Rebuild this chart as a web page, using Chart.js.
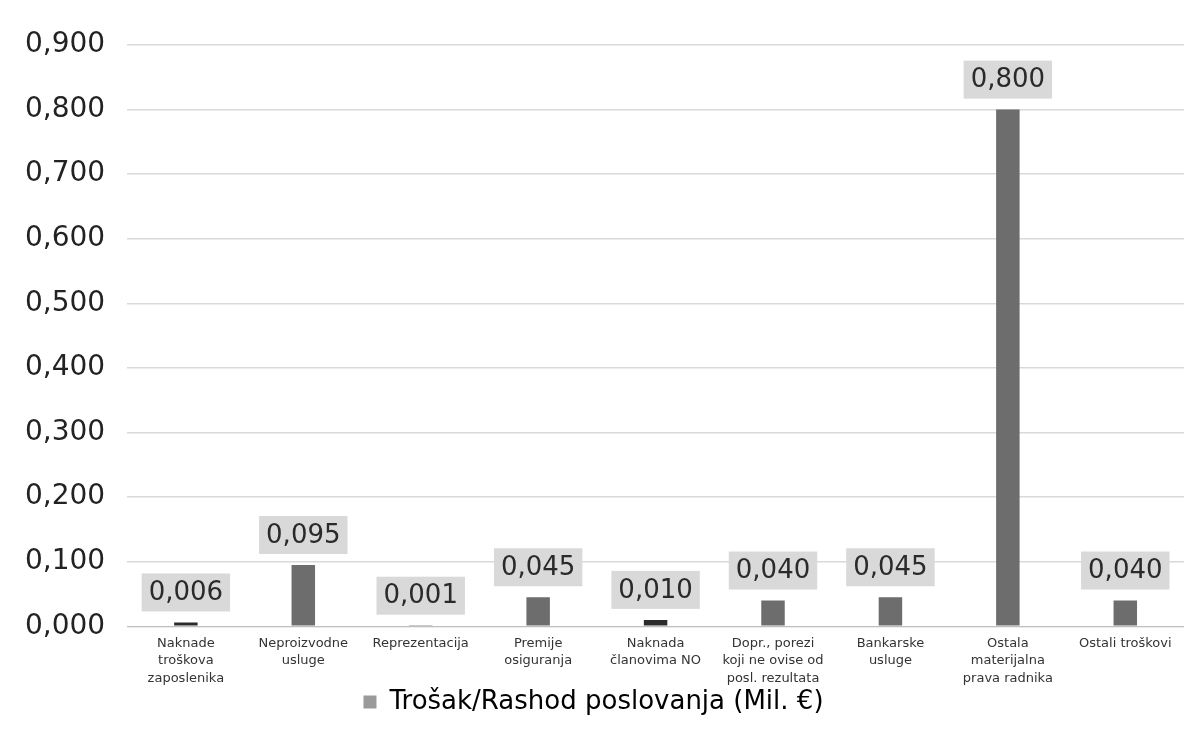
<!DOCTYPE html>
<html>
<head>
<meta charset="utf-8">
<script src="https://cdn.jsdelivr.net/npm/chart.js@4"></script>
<style>
  html, body { margin: 0; padding: 0; background: #fff; }
  #wrap { width: 1184px; height: 743px; }
</style>
</head>
<body>
<div id="wrap"><canvas id="myChart" width="1184" height="743"></canvas></div>
<script>
// Categories (multi-line labels as shown under the bars)
const categories = [
    ['Naknade', 'troškova', 'zaposlenika'],
    ['Neproizvodne', 'usluge'],
    ['Reprezentacija'],
    ['Premije', 'osiguranja'],
    ['Naknada', 'članovima NO'],
    ['Dopr., porezi', 'koji ne ovise od', 'posl. rezultata'],
    ['Bankarske', 'usluge'],
    ['Ostala', 'materijalna', 'prava radnika'],
    ['Ostali troškovi']
];
const values = [0.006, 0.095, 0.001, 0.045, 0.010, 0.040, 0.045, 0.800, 0.040]; // Mil. €
const seriesName = 'Trošak/Rashod poslovanja (Mil. €)';

const fmt = v => v.toFixed(3).replace('.', ',');

// Grey boxes with the value above each bar
const valueBoxes = {
    id: 'valueBoxes',
    afterDatasetsDraw(chart) {
        const c = chart.ctx;
        const meta = chart.getDatasetMeta(0);
        c.save();
        c.font = '26px "DejaVu Sans"';
        c.textAlign = 'center';
        c.textBaseline = 'middle';
        meta.data.forEach((bar, i) => {
            const txt = fmt(values[i]);
            const w = c.measureText(txt).width + 14;
            const h = 38;
            const cy = bar.y - 30;
            c.fillStyle = '#d9d9d9';
            c.fillRect(bar.x - w / 2, cy - h / 2, w, h);
            c.fillStyle = '#2a2a2a';
            c.fillText(txt, bar.x, cy + 1);
        });
        c.restore();
    }
};

const ctx = document.getElementById('myChart').getContext('2d');
const myChart = new Chart(ctx, {
    type: 'bar',
    data: {
        labels: categories,
        datasets: [{
            label: seriesName,
            data: values,
            backgroundColor: ['#2b2b2b', '#6d6d6d', '#2b2b2b', '#6d6d6d', '#2b2b2b', '#6d6d6d', '#6d6d6d', '#6d6d6d', '#6d6d6d'],
            barPercentage: 0.2,
            categoryPercentage: 1.0
        }]
    },
    options: {
        responsive: false,
        animation: false,
        layout: { padding: { left: 3, right: 0, top: 45, bottom: 18 } },
        plugins: {
            tooltip: { enabled: false },
            legend: {
                position: 'bottom',
                labels: {
                    font: { family: 'DejaVu Sans', size: 26 },
                    color: '#333',
                    boxWidth: 13,
                    boxHeight: 13,
                    padding: 2,
                    generateLabels: () => [{
                        text: seriesName,
                        fillStyle: '#9a9a9a',
                        strokeStyle: '#9a9a9a',
                        lineWidth: 0
                    }]
                }
            }
        },
        scales: {
            x: {
                grid: { display: false },
                border: { color: '#bfbfbf' },
                ticks: {
                    maxRotation: 0,
                    autoSkip: false,
                    color: '#333',
                    font: { family: 'DejaVu Sans', size: 13, lineHeight: 1.35 },
                    padding: 0
                }
            },
            y: {
                min: 0,
                max: 0.9,
                ticks: {
                    stepSize: 0.1,
                    color: '#222',
                    padding: 22,
                    font: { family: 'DejaVu Sans', size: 28 },
                    callback: v => fmt(v)
                },
                grid: { color: '#d9d9d9', lineWidth: 1.5, drawTicks: false },
                border: { display: false }
            }
        }
    },
    plugins: [valueBoxes]
});
</script>
</body>
</html>
